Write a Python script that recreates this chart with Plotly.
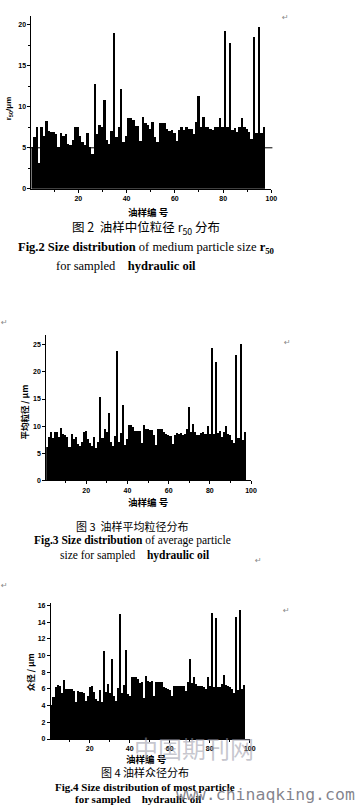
import plotly.graph_objects as go

W, H = 362, 810

# ---------------- data ----------------
sample_no = list(range(1, 98))

r50_um = [5.1, 6.3, 7.5, 3.2, 7.6, 6.5, 8.3, 7.1, 7.0, 6.9,
          6.7, 5.1, 6.8, 6.5, 6.7, 5.5, 5.3, 6.0, 7.5, 7.6,
          6.4, 5.7, 5.3, 6.8, 5.1, 4.3, 12.8, 6.7, 7.85, 7.6,
          10.9, 6.0, 5.5, 7.05, 19.0, 6.3, 7.6, 12.15, 5.7, 6.4,
          8.7, 8.7, 8.4, 7.7, 7.7, 5.9, 8.8, 8.0, 7.85, 7.3,
          8.1, 6.3, 5.7, 8.0, 8.0, 8.0, 7.3, 7.05, 7.2, 6.8,
          5.9, 7.2, 7.6, 7.2, 7.5, 7.3, 7.3, 6.7, 8.1, 11.3,
          7.6, 8.8, 7.6, 7.5, 7.3, 7.2, 7.5, 7.5, 8.7, 7.5,
          19.3, 7.5, 17.8, 7.2, 7.45, 6.9, 7.6, 8.7, 7.5, 7.3,
          6.9, 6.1, 18.5, 6.8, 19.7, 6.8, 7.6]

mean_um = [6.1, 8.0, 8.9, 7.8, 8.9, 8.9, 8.0, 9.6, 8.6, 8.3,
           8.0, 6.1, 8.6, 7.7, 8.0, 6.7, 6.4, 7.0, 8.9, 9.1,
           7.7, 6.9, 6.4, 8.0, 5.9, 7.0, 15.3, 7.8, 9.5, 8.9,
           12.4, 7.0, 6.4, 8.1, 23.8, 7.0, 8.8, 13.8, 6.6, 7.7,
           10.2, 10.2, 9.8, 9.0, 9.0, 9.0, 6.9, 10.2, 9.4, 9.4,
           9.3, 9.3, 8.3, 6.6, 9.5, 9.5, 9.4, 8.9, 8.6, 8.3,
           8.1, 6.7, 8.3, 8.8, 8.6, 8.7, 8.4, 8.6, 9.5, 13.5,
           8.9, 10.4, 8.9, 8.4, 8.4, 8.8, 8.9, 8.6, 10.1, 8.6,
           24.4, 8.6, 21.8, 8.8, 9.0, 8.0, 8.9, 10.0, 8.6, 8.4,
           7.4, 6.9, 23.1, 7.8, 25.1, 7.5, 8.9]

mode_um = [4.1, 5.0, 6.2, 6.5, 6.3, 5.5, 7.1, 6.0, 6.0, 6.0,
           6.0, 5.8, 4.4, 5.7, 5.6, 5.6, 5.5, 4.6, 5.1, 6.25,
           6.4, 5.6, 4.8, 4.5, 5.9, 4.4, 10.6, 5.6, 6.6, 5.5,
           9.6, 5.2, 4.6, 6.1, 15.0, 5.5, 6.5, 10.7, 5.4, 5.1,
           7.4, 7.4, 7.4, 7.2, 6.7, 6.8, 4.9, 7.6, 7.0, 6.8,
           7.0, 5.2, 6.8, 6.8, 6.8, 6.8, 6.2, 6.1, 6.0, 5.9,
           5.1, 6.3, 6.4, 6.4, 6.4, 6.4, 6.4, 5.8, 6.85, 9.6,
           6.7, 7.45, 6.6, 6.4, 6.4, 6.4, 6.25, 6.0, 7.4, 6.3,
           15.1, 6.25, 14.5, 6.25, 6.2, 6.6, 7.65, 6.5, 6.3, 6.2,
           6.0, 5.5, 14.6, 5.9, 15.5, 6.0, 6.5]

x_ticks = [20, 40, 60, 80, 100]
y1_ticks = [0, 5, 10, 15, 20]
y2_ticks = [0, 5, 10, 15, 20, 25]
y3_ticks = [0, 2, 4, 6, 8, 10, 12, 14, 16]


def px(x):
    return x / W


def py(y):
    return 1 - y / H


fig = go.Figure()
for i, vals in enumerate([r50_um, mean_um, mode_um]):
    s = "" if i == 0 else str(i + 1)
    fig.add_trace(go.Bar(x=sample_no, y=vals, xaxis="x" + s, yaxis="y" + s,
                         marker=dict(color="black", line=dict(width=0)),
                         showlegend=False, hoverinfo="x+y"))

tickfont = dict(family="Liberation Sans, Arial", size=7, color="black", weight="bold")


def xaxis(dom, anchor):
    return dict(domain=dom, anchor=anchor, range=[0.6, 100], tickvals=x_ticks,
                ticktext=[str(t) for t in x_ticks],
                showline=True, linecolor="black", linewidth=1, ticks="outside",
                ticklen=3, tickwidth=1, tickcolor="black", showgrid=False,
                zeroline=False, tickfont=tickfont,
                minor=dict(tickvals=[10, 30, 50, 70, 90], ticks="outside", ticklen=2,
                           tickcolor="black", showgrid=False))


def yaxis(dom, anchor, rng, tv, minor_tv=None):
    d = dict(domain=dom, anchor=anchor, range=rng, tickvals=tv,
             ticktext=[str(t) for t in tv],
             showline=True, linecolor="black", linewidth=1, ticks="outside",
             ticklen=3, tickwidth=1, tickcolor="black", showgrid=False,
             zeroline=False, tickfont=tickfont)
    if minor_tv:
        d["minor"] = dict(tickvals=minor_tv, ticks="outside", ticklen=2,
                          tickcolor="black", showgrid=False)
    return d


fig.update_layout(
    width=W, height=H, margin=dict(l=0, r=0, t=0, b=0),
    paper_bgcolor="white", plot_bgcolor="white", bargap=0,
    xaxis=xaxis([px(32), px(276)], "y"),
    yaxis=yaxis([py(188.7), py(15)], "x", [0, 21.1], y1_ticks, [2.5, 7.5, 12.5, 17.5]),
    xaxis2=xaxis([px(47), px(255.3)], "y2"),
    yaxis2=yaxis([py(481.7), py(335.7)], "x2", [0, 26.8], y2_ticks),
    xaxis3=xaxis([px(51.7), px(254)], "y3"),
    yaxis3=yaxis([py(741.7), py(605)], "x3", [0, 16.3], y3_ticks),
)

# reference line at 5 in figure 2
fig.add_shape(type="line", xref="paper", yref="y", x0=px(30), x1=px(277), y0=5, y1=5,
              line=dict(color="black", width=1))

cjk = "Noto Sans CJK SC"
serif = "Liberation Serif, Times New Roman"
ann = []


def text(x, y, t, size, family=cjk, color="black", angle=0, weight="normal", xanchor="center"):
    ann.append(dict(x=px(x), y=py(y), xref="paper", yref="paper", text=t, showarrow=False,
                    font=dict(family=family, size=size, color=color, weight=weight),
                    textangle=angle, xanchor=xanchor, yanchor="middle"))


# ---- figure 2 ----
text(10, 108, "r<sub>50</sub>/μm", 8, family="Liberation Sans", angle=-90, weight="bold")
text(150, 212, "油样编 号", 9.5, weight="bold")
text(148, 228, "图 2  油样中位粒径 r<sub>50</sub> 分布", 12.5)
text(149, 248, "<b>Fig.2 Size distribution</b> of medium particle size <b>r<sub>50</sub></b>", 12.5, family=serif)
text(128, 266, "for sampled    <b>hydraulic oil</b>", 12.5, family=serif)

# ---- figure 3 ----
text(24, 413, "平均粒径 / μm", 8.5, angle=-90, weight="bold")
text(151, 503, "油样编 号", 9.5, weight="bold")
text(135, 528, "图 3  油样平均粒径分布", 11)
text(135, 542, "<b>Fig.3 Size distribution</b> of average particle", 11.5, family=serif)
text(137, 557, "size for sampled    <b>hydraulic oil</b>", 11.5, family=serif)

# ---- figure 4 ----
text(30, 675, "众径 / μm", 8.5, angle=-90, weight="bold")
text(148, 762, "油样编 号", 9.5, weight="bold")
text(147, 775, "图 4 油样众径分布", 11)
text(147, 790, "<b>Fig.4 Size distribution of most particle</b>", 11, family=serif)
text(140, 802, "<b>for sampled    hydraulic oil</b>", 11, family=serif)

# paragraph marks
for (x, y) in [(290, 17), (292, 343), (263, 562), (291, 613), (5, 323), (5, 587)]:
    text(x, y, "↵", 8, family="DejaVu Sans", color="#888888")

# watermark
text(197, 750, "中国期刊网", 24, color="rgba(150,150,165,0.55)")
text(270, 797, "www.chinaqking.com", 16.5, family="DejaVu Sans Mono", color="rgba(110,110,120,0.85)")

fig.update_layout(annotations=ann)
fig.write_html("out.html", config={"displayModeBar": False},
               post_script="document.body.style.margin='0';"
                           "document.documentElement.style.overflow='hidden';"
                           "document.body.style.overflow='hidden';")
